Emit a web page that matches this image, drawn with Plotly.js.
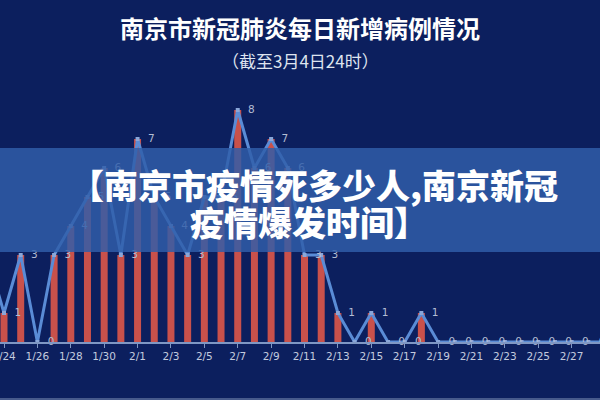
<!DOCTYPE html>
<html>
<head>
<meta charset="utf-8">
<script src="https://cdn.plot.ly/plotly-3.0.1.min.js"></script>
<style>html,body{margin:0;padding:0;background:#0c1f5e;}#chart{width:600px;height:400px;}</style>
</head>
<body>
<div id="chart"></div>
<script>
const dates = ['1/23','1/24','1/25','1/26','1/27','1/28','1/29','1/30','1/31',
  '2/1','2/2','2/3','2/4','2/5','2/6','2/7','2/8','2/9','2/10','2/11','2/12','2/13','2/14','2/15','2/16','2/17','2/18','2/19','2/20',
  '2/21','2/22','2/23','2/24','2/25','2/26','2/27','2/28','2/29','3/1','3/2','3/3','3/4'];
const newCases = [3,1,3,0,3,4,5,6,3,
  7,5,4,3,5,5,8,6,7,6,3,3,1,0,1,0,0,1,0,0,
  0,0,0,0,0,0,0,0,0,0,0,0,0];
const titleText = '南京市新冠肺炎每日新增病例情况';
const subtitleText = '（截至3月4日24时）';
const bannerLine1 = '【南京市疫情死多少人,南京新冠';
const bannerLine2 = '疫情爆发时间】';

const tickDates = dates.filter((d, i) => i % 2 === 1);

const PLOT_TOP = 100, PLOT_BOTTOM = 342, H = 400;
const py = p => (PLOT_BOTTOM - p) / (PLOT_BOTTOM - PLOT_TOP);

const traces = [
  {
    type: 'bar', x: dates, y: newCases, width: 0.42,
    marker: {color: '#c9514b'}, hoverinfo: 'skip', showlegend: false
  },
  {
    type: 'scatter', mode: 'lines+markers', x: dates, y: newCases,
    line: {color: '#5a8cd6', width: 3},
    marker: {size: 4, color: '#8aa6d8', symbol: 'square'},
    cliponaxis: false, hoverinfo: 'skip', showlegend: false
  },
  {
    type: 'scatter', mode: 'markers+text', x: dates, y: newCases,
    text: newCases.map(String), textposition: 'middle right',
    textfont: {family: 'DejaVu Sans', size: 10.5, color: '#b3bdd4'},
    marker: {size: 15, color: 'rgba(0,0,0,0)'},
    cliponaxis: false, hoverinfo: 'skip', showlegend: false
  }
];

const layout = {
  width: 600, height: 400,
  margin: {l: 0, r: 0, t: PLOT_TOP, b: H - PLOT_BOTTOM, pad: 0},
  paper_bgcolor: '#0c1f5e', plot_bgcolor: '#0c1f5e',
  title: {text: titleText, x: 0.5, xanchor: 'center', y: 1 - 30 / H, yanchor: 'middle',
    yref: 'container', font: {family: 'Noto Sans CJK SC', size: 24, color: '#ffffff', weight: 'bold'}},
  xaxis: {
    type: 'category', range: [0.76, 36.7], tickmode: 'array', tickvals: tickDates, ticktext: tickDates,
    showgrid: false, zeroline: false, showline: true, linecolor: '#7f97c4', linewidth: 1.5,
    ticks: 'outside', ticklen: 4, tickcolor: '#7f97c4', tickwidth: 1,
    tickfont: {family: 'DejaVu Sans', size: 10.5, color: '#c3cbdf'}, fixedrange: true
  },
  yaxis: {visible: false, range: [0, (PLOT_BOTTOM - PLOT_TOP) / 29], fixedrange: true},
  bargap: 0.58,
  shapes: [
    {type: 'rect', xref: 'paper', yref: 'paper', x0: 0, x1: 1, y0: py(252), y1: py(148),
      fillcolor: 'rgba(48,94,170,0.83)', line: {width: 0}, layer: 'above'},
    {type: 'line', xref: 'paper', yref: 'paper', x0: 0, x1: 1, y0: py(399), y1: py(399),
      line: {color: '#5b6f9c', width: 1.5}, layer: 'above'}
  ],
  annotations: [
    {text: subtitleText, xref: 'paper', yref: 'paper', x: 0.5, y: py(61), xanchor: 'center', yanchor: 'middle',
      showarrow: false, font: {family: 'Noto Sans CJK SC', size: 17, color: '#dfe4ef'}},
    {text: bannerLine1, xref: 'paper', yref: 'paper', x: 68 / 600, y: py(184), xanchor: 'left', yanchor: 'middle',
      showarrow: false, font: {family: 'Noto Sans CJK SC', size: 34, color: '#ffffff', weight: 900}},
    {text: bannerLine2, xref: 'paper', yref: 'paper', x: 188 / 600, y: py(221), xanchor: 'left', yanchor: 'middle',
      showarrow: false, font: {family: 'Noto Sans CJK SC', size: 34, color: '#ffffff', weight: 900}}
  ]
};

Plotly.newPlot('chart', traces, layout, {displayModeBar: false, staticPlot: true});
</script>
</body>
</html>
